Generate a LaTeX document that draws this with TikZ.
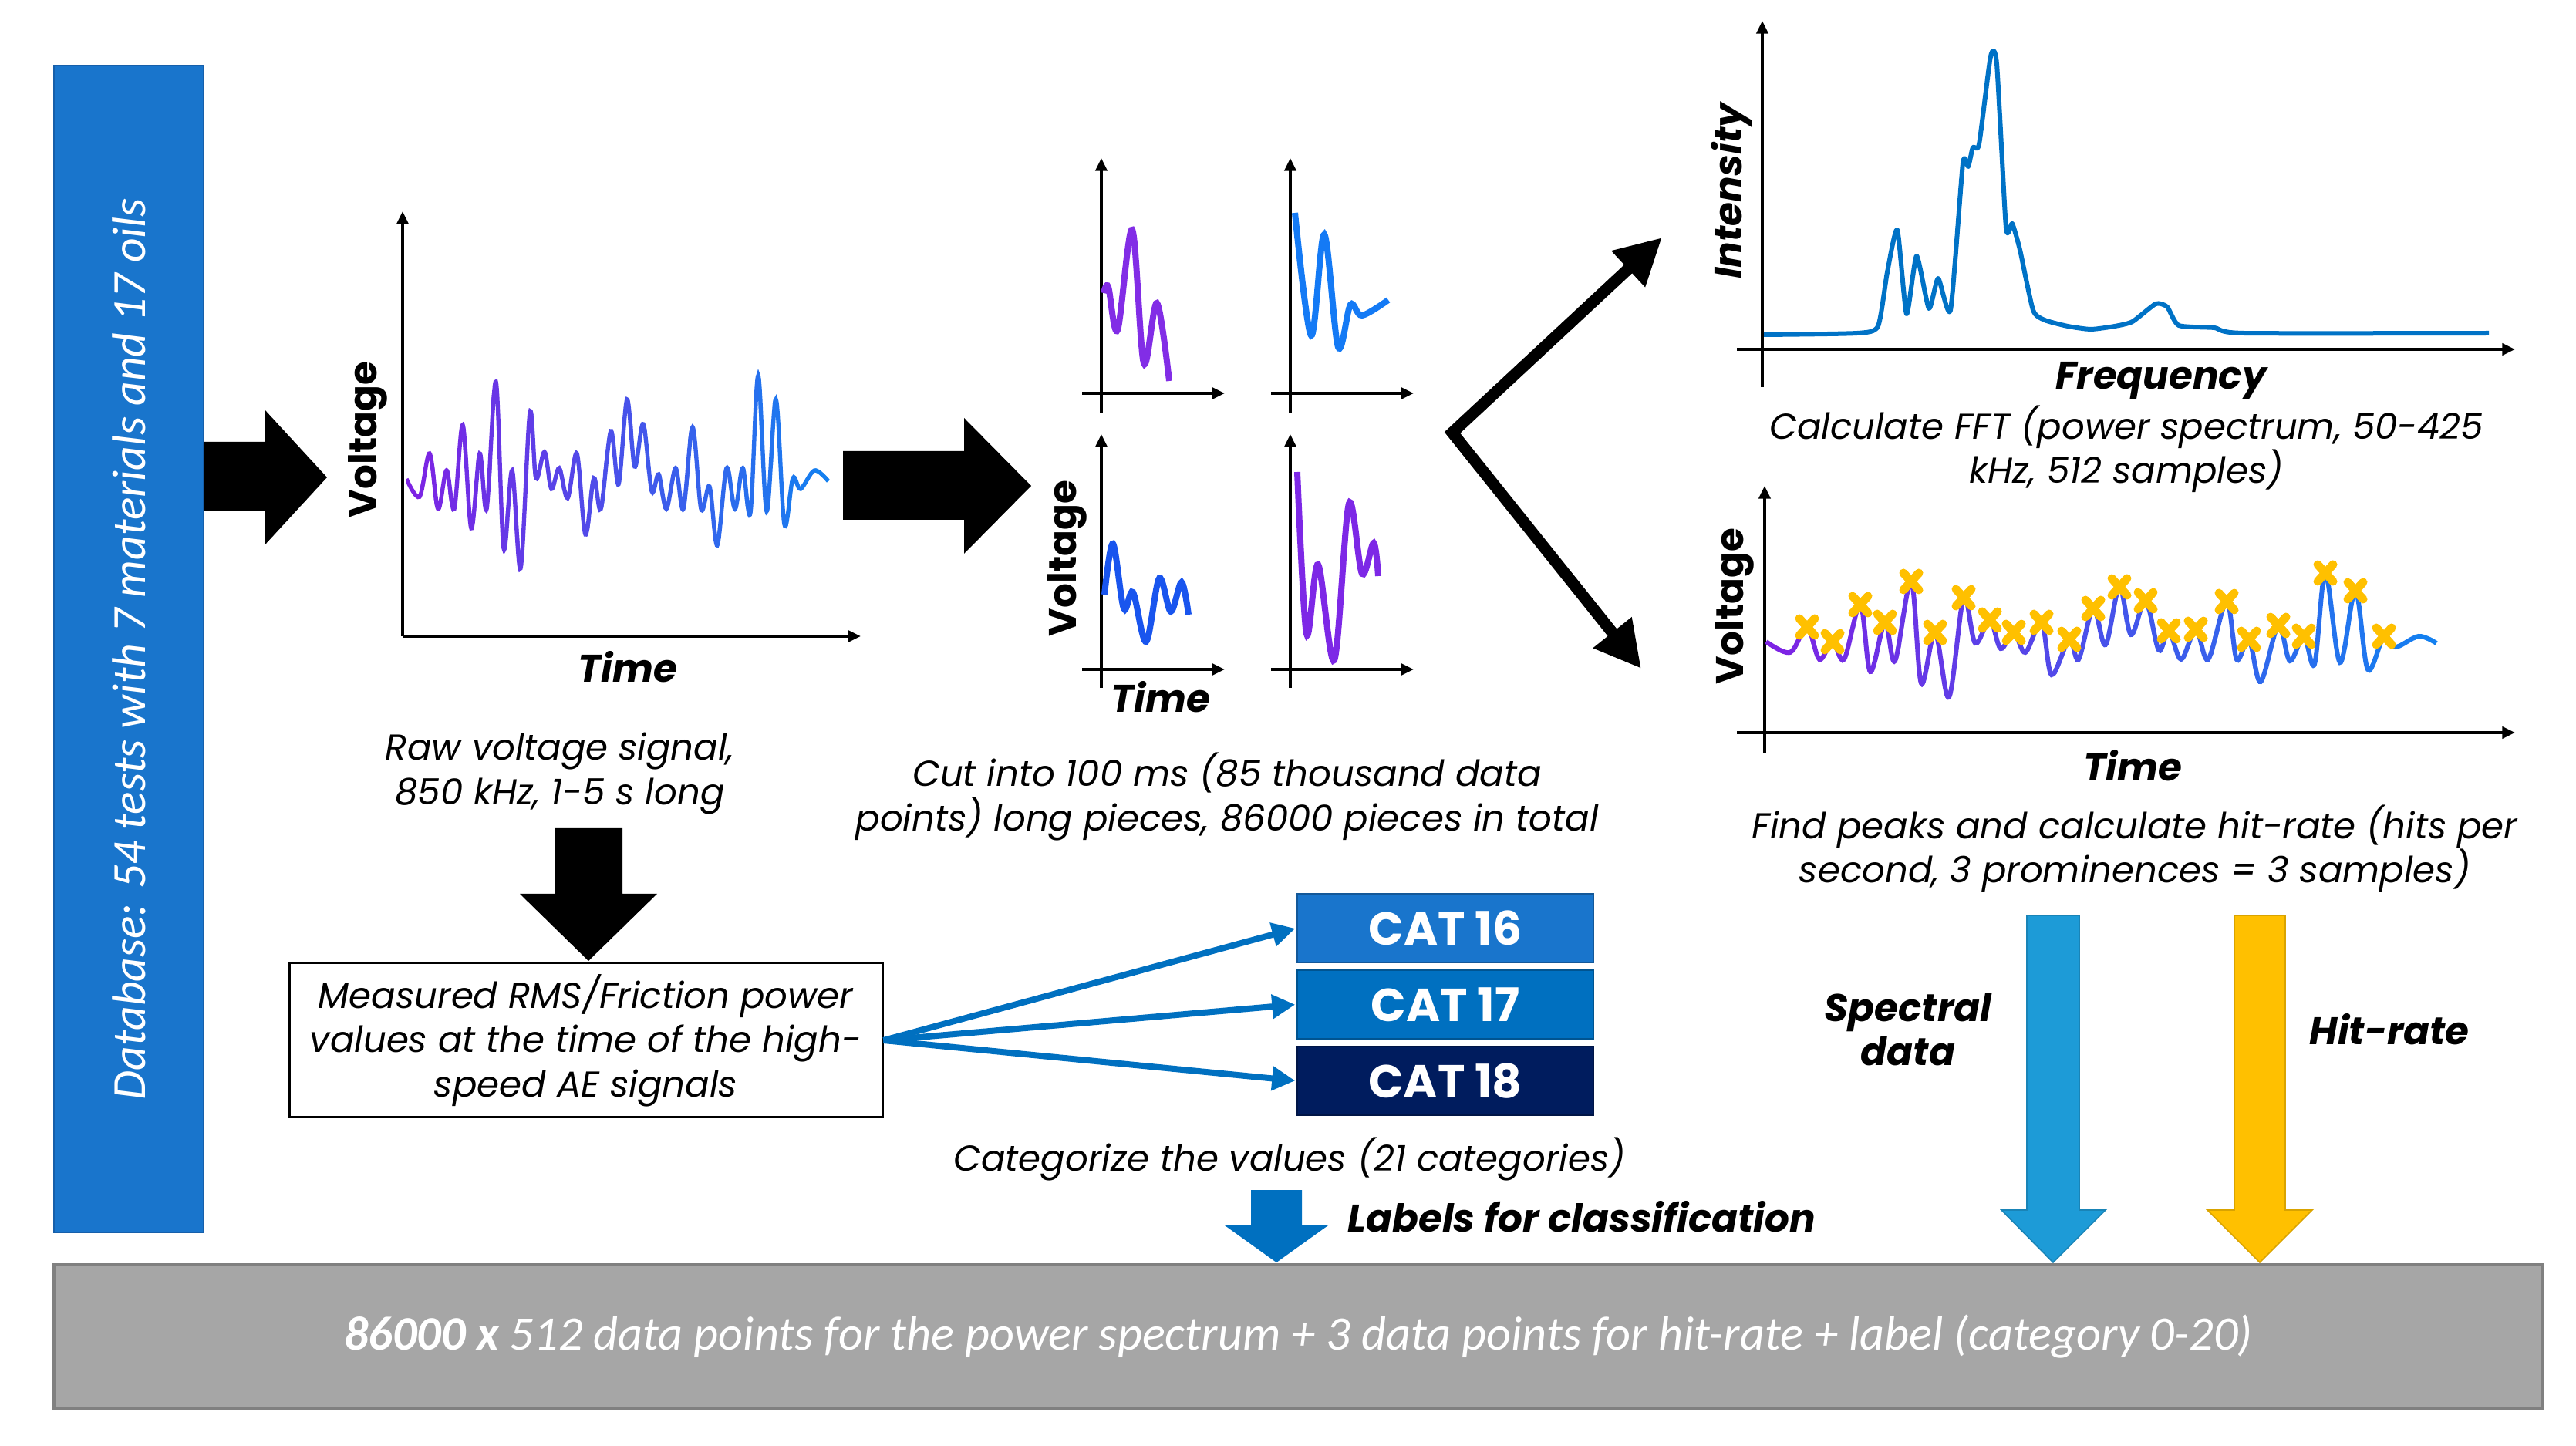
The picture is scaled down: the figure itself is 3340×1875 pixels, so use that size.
\documentclass[tikz,border=0pt]{standalone}
\usepackage{fontspec}
\setmainfont{Poppins}
\newfontfamily\calfont{Carlito}
\usetikzlibrary{arrows.meta}
\definecolor{dbblue}{RGB}{25,117,204}
\definecolor{dbedge}{RGB}{22,95,170}
\definecolor{wpurple}{RGB}{125,35,228}
\definecolor{wblue}{RGB}{20,128,240}
\definecolor{fftblue}{RGB}{0,114,198}
\definecolor{cata}{RGB}{25,117,204}
\definecolor{catb}{RGB}{0,112,192}
\definecolor{catc}{RGB}{0,28,94}
\definecolor{arrblue}{RGB}{0,112,192}
\definecolor{specblue}{RGB}{29,155,215}
\definecolor{hitgold}{RGB}{255,192,0}
\definecolor{barfill}{RGB}{166,166,166}
\definecolor{baredge}{RGB}{128,128,128}
\tikzset{
  ax/.style={line width=1.2pt, -{Triangle[length=5pt,width=4.5pt]}},
  desc/.style={font=\fontsize{14}{17.2}\selectfont\itshape, align=center, inner sep=0pt},
  axlab/.style={font=\fontsize{15}{17}\selectfont\bfseries, inner sep=0pt},
  axlabi/.style={font=\fontsize{15}{17}\selectfont\bfseries\itshape, inner sep=0pt},
  catbox/.style={minimum width=115.2pt, minimum height=26.7pt, inner sep=0pt, text=white,
     font=\fontsize{18}{20}\selectfont\bfseries, line width=0.6pt},
  catarrow/.style={arrblue, line width=2.4pt, -{Triangle[length=9pt,width=9pt]}, shorten >=0.5pt},
  hitmark/.style={hitgold, line width=3.3pt, line cap=round},
  blockarrow/.style={fill=black},
}
\newcommand\rawwave[1]{\draw[#1] plot[smooth,tension=0.55] coordinates {
(527,621)(544,644)(557,588)(568,660)(579,610)(589,660)(600,551)(611,685)(622,588)(631,660)
(643,495)(653,711)(664,610)(675,737)(687,535)(695,620)(706,586)(715,634)(725,607)(736,646)
(748,588)(759,693)(770,620)(779,660)(792,559)(802,628)(813,518)(823,605)(834,550)(845,637)
(854,615)(864,660)(876,607)(886,660)(898,554)(909,660)(920,631)(930,707)(942,607)(953,660)
(963,607)(973,665)(983,487)(994,663)(1006,518)(1017,680)(1028,620)(1038,634)(1056,610)(1074,624)};}
\newcommand\peakwave[1]{\draw[#1] plot[smooth,tension=0.55] coordinates {
(2290,832)(2321,846)(2343,813)(2359,855)(2376,832)(2391,855)(2412,784)(2425,871)(2444,807)(2457,857)
(2478,754)(2491,886)(2509,820)(2527,904)(2546,775)(2561,834)(2580,804)(2594,841)(2611,820)(2626,846)
(2647,807)(2660,875)(2683,829)(2695,855)(2714,789)(2730,836)(2748,761)(2763,823)(2782,779)(2799,843)
(2812,818)(2828,855)(2847,816)(2863,855)(2887,780)(2900,855)(2916,829)(2931,884)(2954,811)(2969,857)
(2987,825)(3001,861)(3015,743)(3034,859)(3054,766)(3070,868)(3091,825)(3106,839)(3136,825)(3159,834)};}
\begin{document}
\begin{tikzpicture}[x=0.3pt,y=-0.3pt]
\fill[white] (0,0) rectangle (3340,1875);
\useasboundingbox (0,0) rectangle (3340,1875);

% ---------- database box
\node[draw=dbedge, fill=dbblue, line width=0.6pt, rotate=90, minimum width=453.9pt,
  minimum height=58.2pt, inner sep=0pt, text=white,
  font=\calfont\itshape\fontsize{18.5}{20}\selectfont] (db) at (167,841.5)
  {Database: 54 tests with 7 materials and 17 oils};

% ---------- block arrow 1
\fill[blockarrow] (264,573) -- (343,573) -- (343,531) -- (424,619) -- (343,707) -- (343,663) -- (264,663) -- cycle;

% ---------- raw signal chart
\coordinate (c1o) at (522,825);
\coordinate (c1y) at (522,274);
\coordinate (c1x) at (1116,825);
\draw[ax] (c1o) -- (c1y);
\draw[ax] (c1o) -- (c1x);
\foreach \i in {0,...,29}{
  \pgfmathsetmacro\xa{527+18.3*\i}
  \pgfmathsetmacro\xb{527+18.3*(\i+1)+1}
  \pgfmathtruncatemacro\p{100*\i/29}
  \begin{scope}
    \clip (\xa-1,400) rectangle (\xb,800);
    \rawwave{draw=wblue!\p!wpurple, line width=1.6pt}
  \end{scope}
}
\node[axlab, rotate=90] (v1) at (477,570) {Voltage};
\node[axlabi] (t1) at (814,865) {Time};
\node[desc] (d1) at (726,1003) {Raw voltage signal,\\850 kHz, 1-5 s long};

% ---------- block arrow 2
\fill[blockarrow] (1093,585) -- (1250,585) -- (1250,542) -- (1337,630) -- (1250,718) -- (1250,674) -- (1093,674) -- cycle;

% ---------- four small charts
\foreach \ox/\oy/\ty/\by in {1428/510/205/535, 1673/510/205/535, 1428/868/563/892, 1673/868/563/892}{
  \coordinate (sb) at (\ox,\by);
  \coordinate (st) at (\ox,\ty);
  \coordinate (sl) at (\ox-25,\oy);
  \coordinate (sr) at (\ox+160,\oy);
  \draw[ax] (sb) -- (st);
  \draw[ax] (sl) -- (sr);
}
\draw[line width=2.4pt, draw={rgb,255:red,130;green,45;blue,230}] plot[smooth,tension=0.55] coordinates {
(1431,380)(1437,372)(1449,428)(1468,298)(1483,471)(1500,393)(1516,494)};
\draw[line width=2.4pt, draw={rgb,255:red,20;green,122;blue,245}] plot[smooth,tension=0.55] coordinates {
(1679,276)(1700,435)(1717,304)(1735,450)(1751,395)(1766,409)(1800,389)};
\draw[line width=2.4pt, draw={rgb,255:red,25;green,85;blue,238}] plot[smooth,tension=0.55] coordinates {
(1432,771)(1443,705)(1457,789)(1469,768)(1486,832)(1503,750)(1518,793)(1532,755)(1541,797)};
\draw[line width=2.4pt, draw={rgb,255:red,125;green,40;blue,230}] plot[smooth,tension=0.55] coordinates {
(1682,612)(1694,822)(1709,732)(1730,856)(1749,653)(1766,744)(1781,704)(1787,747)};
\node[axlab, rotate=90] (v2) at (1384,724) {Voltage};
\node[axlabi] (t2) at (1505,904) {Time};
\node[desc] (d2) at (1591,1033) {Cut into 100 ms (85 thousand data\\points) long pieces, 86000 pieces in total};

% ---------- V arrow
\coordinate (vtx) at (1883,561);
\coordinate (vup) at (2155,308);
\coordinate (vdn) at (2128,867);
\draw[line width=4.5pt, line join=miter, {Triangle[length=18pt,width=18pt]}-{Triangle[length=18pt,width=18pt]}] (vup) -- (vtx) -- (vdn);

% ---------- FFT chart
\coordinate (fb) at (2285,502);
\coordinate (ft) at (2285,27);
\coordinate (fl) at (2252,453);
\coordinate (fr) at (3261,453);
\draw[ax] (fb) -- (ft);
\draw[ax] (fl) -- (fr);
\draw[fftblue, line width=1.8pt, line join=round] plot[smooth,tension=0.35] coordinates {
(2287,434)(2408,432)(2435,423)(2447,353)(2460,298)(2472,407)(2485,332)(2501,400)(2513,361)(2529,402)
(2545,212)(2552,216)(2558,191)(2566,187)(2581,73)(2589,83)(2601,295)(2609,290)(2619,324)(2636,402)
(2651,415)(2681,423)(2711,427)(2742,423)(2765,417)(2795,394)(2810,398)(2825,422)(2871,425)(2909,432)(3227,432)};
\node[axlabi, rotate=90] (iy) at (2245,248) {Intensity};
\node[axlabi] (fx) at (2802,494) {Frequency};
\node[desc] (d3) at (2757,582) {Calculate FFT (power spectrum, 50-425\\kHz, 512 samples)};

% ---------- peaks chart
\coordinate (pb) at (2288,977);
\coordinate (pt) at (2288,630);
\coordinate (pl) at (2252,950);
\coordinate (pr) at (3261,950);
\draw[ax] (pb) -- (pt);
\draw[ax] (pl) -- (pr);
\foreach \i in {0,...,29}{
  \pgfmathsetmacro\xa{2290+29*\i}
  \pgfmathsetmacro\xb{2290+29*(\i+1)+1}
  \pgfmathtruncatemacro\p{100*\i/29}
  \begin{scope}
    \clip (\xa-1,650) rectangle (\xb,940);
    \peakwave{draw=wblue!\p!wpurple, line width=1.8pt}
  \end{scope}
}
\foreach \x/\y in {2343/813,2376/832,2412/784,2444/807,2478/754,2509/820,2546/775,2580/804,2611/820,
  2647/807,2683/829,2714/789,2748/761,2782/779,2812/818,2847/816,2887/780,2916/829,2954/811,2987/825,
  3015/743,3054/766,3091/825}{
  \draw[hitmark] (\x-10,\y-11) -- (\x+10,\y+11) (\x-10,\y+11) -- (\x+10,\y-11);
}
\node[axlab, rotate=90] (v3) at (2249,786) {Voltage};
\node[axlabi] (t3) at (2765,993) {Time};
\node[desc] (d4) at (2768,1100) {Find peaks and calculate hit-rate (hits per\\second, 3 prominences = 3 samples)};

% ---------- measured box
\fill[blockarrow] (720,1074) -- (807,1074) -- (807,1159) -- (852,1159) -- (763,1246) -- (674,1159) -- (720,1159) -- cycle;
\node[draw=black, line width=0.9pt, minimum width=230.7pt, minimum height=60pt, inner sep=0pt,
  desc] (meas) at (759.5,1349) {Measured RMS/Friction power\\values at the time of the high-\\speed AE signals};

% ---------- categories
\node[catbox, fill=cata, draw=cata!75!black] (c16) at (1874,1203.5) {CAT 16};
\node[catbox, fill=catb, draw=catb!75!black] (c17) at (1874,1302.5) {CAT 17};
\node[catbox, fill=catc, draw=catc!75!black] (c18) at (1874,1401.5) {CAT 18};
\draw[catarrow] (meas.east) -- (c16.west);
\draw[catarrow] (meas.east) -- (c17.west);
\draw[catarrow] (meas.east) -- (c18.west);
\node[desc] (d5) at (1672,1503) {Categorize the values (21 categories)};

% ---------- labels arrow
\fill[arrblue] (1622,1543) -- (1688,1543) -- (1688,1589) -- (1722,1589) -- (1655,1637) -- (1588,1589) -- (1622,1589) -- cycle;
\node[axlabi, anchor=west] (lab) at (1747,1578) {Labels for classification};

% ---------- spectral / hit-rate arrows
\filldraw[fill=specblue, draw=specblue!85!black, line width=0.5pt] (2628,1187) -- (2696,1187) -- (2696,1569) -- (2730,1569) -- (2662,1637) -- (2595,1569) -- (2628,1569) -- cycle;
\filldraw[fill=hitgold, draw=hitgold!85!black, line width=0.5pt] (2897,1187) -- (2963,1187) -- (2963,1569) -- (2998,1569) -- (2930,1637) -- (2862,1569) -- (2897,1569) -- cycle;
\node[axlabi, align=center] (spec) at (2474,1335) {Spectral\\data};
\node[axlabi] (hit) at (3098,1335) {Hit-rate};

% ---------- bottom bar
\node[draw=baredge, fill=barfill, line width=1.2pt, minimum width=968.1pt, minimum height=55.8pt,
  inner sep=0pt, text=white, font=\calfont\itshape\fontsize{18.7}{21}\selectfont] (bar) at (1683.5,1733)
  {\textbf{86000 x} 512 data points for the power spectrum + 3 data points for hit-rate + label (category 0-20)};
\end{tikzpicture}
\end{document}
